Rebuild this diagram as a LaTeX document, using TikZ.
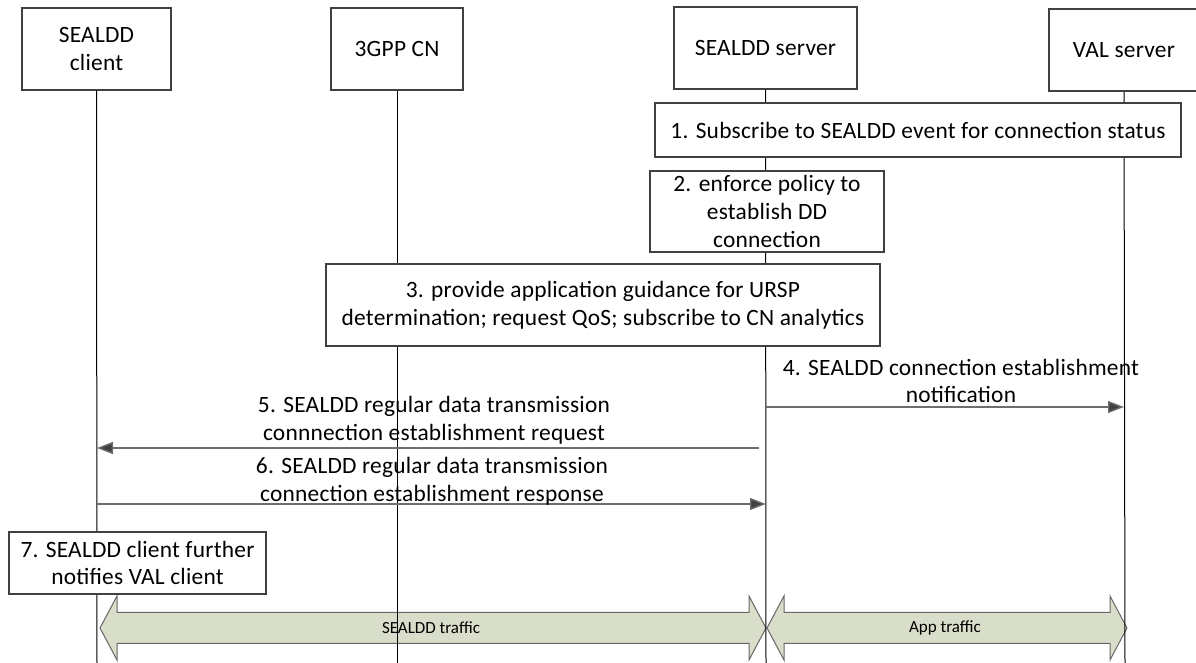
\documentclass[tikz,border=0pt]{standalone}
\usepackage{fontspec}
\setmainfont{Carlito}
\newfontfamily\spacedfont[LetterSpace=1.0]{Carlito}
\usetikzlibrary{arrows.meta,calc}
\definecolor{traffic}{RGB}{216,222,201}
\definecolor{msggray}{RGB}{110,110,110}
\begin{document}
\begin{tikzpicture}[x=0.5pt,y=-0.5pt,
  box/.style={draw=black!75, line width=0.6pt, fill=white, align=center, inner sep=0pt,
    font=\spacedfont\fontsize{11.7}{13.8}\selectfont},
  life/.style={draw=black, line width=0.5pt},
  msg/.style={draw=msggray, line width=0.7pt, -{Triangle[length=8pt,width=6pt,fill=black!75]}},
  lbl/.style={align=center, inner sep=0pt, font=\spacedfont\fontsize{11.7}{13.8}\selectfont},
  fat/.style={draw=black!60, fill=traffic, line width=0.5pt},
  fatlbl/.style={inner sep=0pt, font=\fontsize{8.5}{10}\selectfont}
]
\useasboundingbox (0,0) rectangle (1196,663);

% traffic arrows (drawn first, lifelines run over them)
\coordinate (t1a) at (100,628);
\coordinate (t1b) at (766,628);
\coordinate (t2a) at (767,628);
\coordinate (t2b) at (1127,628);

\draw[fat] (t1a) -- ++(17,-32) -- ++(0,16.5) -- ($(t1b)+(-17,-15.5)$) -- ++(0,-16.5)
  -- (t1b) -- ++(-17,32) -- ++(0,-16.5) -- ($(t1a)+(17,15.5)$) -- ++(0,16.5) -- cycle;
\draw[fat] (t2a) -- ++(17,-32) -- ++(0,16.5) -- ($(t2b)+(-17,-15.5)$) -- ++(0,-16.5)
  -- (t2b) -- ++(-17,32) -- ++(0,-16.5) -- ($(t2a)+(17,15.5)$) -- ++(0,16.5) -- cycle;

\node[fatlbl] (tl1) at (431,628) {SEALDD traffic};
\node[fatlbl] (tl2) at (945,628) {App traffic};

% actors
\node[box, minimum width=74.5pt, minimum height=41pt] (client) at (96.5,49) {SEALDD\\client};
\node[box, minimum width=66pt, minimum height=41pt] (cn) at (397,49) {3GPP CN};
\node[box, minimum width=91.5pt, minimum height=41pt] (server) at (765.5,48) {SEALDD server};
\node[box, minimum width=75pt, minimum height=41pt] (val) at (1124,50) {VAL server};

% lifeline ends
\coordinate (clientEnd) at (97,663);
\coordinate (cnEnd) at (397,663);
\coordinate (serverEnd) at (766,663);
\coordinate (valEnd) at (1125,663);

\draw[life] (client.south) -- (clientEnd);
\draw[life] (cn.south) -- (cnEnd);
\draw[life] (server.south) -- (serverEnd);
\draw[life] (val.south) -- (valEnd);

% step boxes
\node[box, minimum width=263pt, minimum height=27pt] (s1) at (918,130)
  {1. Subscribe to SEALDD event for connection status};
\node[box, minimum width=117pt, minimum height=40.5pt] (s2) at (767,211.5)
  {2. enforce policy to\\establish DD\\connection};
\node[box, minimum width=277pt, minimum height=41pt] (s3) at (603,305)
  {3. provide application guidance for URSP\\determination; request QoS; subscribe to CN analytics};
\node[box, minimum width=128.5pt, minimum height=31pt] (s7) at (137.5,563)
  {7. SEALDD client further\\notifies VAL client};

% messages
\coordinate (m4a) at (766,407);
\coordinate (m4b) at (1124,407);
\coordinate (m5a) at (759,448);
\coordinate (m5b) at (97,448);
\coordinate (m6a) at (97,504);
\coordinate (m6b) at (766,504);

\draw[msg] (m4a) -- (m4b);
\draw[msg] (m5a) -- (m5b);
\draw[msg] (m6a) -- (m6b);

\node[lbl] (l4) at (961,381) {4. SEALDD connection establishment\\notification};
\node[lbl] (l5) at (434,420) {5. SEALDD regular data transmission\\connnection establishment request};
\node[lbl] (l6) at (432,481) {6. SEALDD regular data transmission\\connection establishment response};
\end{tikzpicture}
\end{document}
